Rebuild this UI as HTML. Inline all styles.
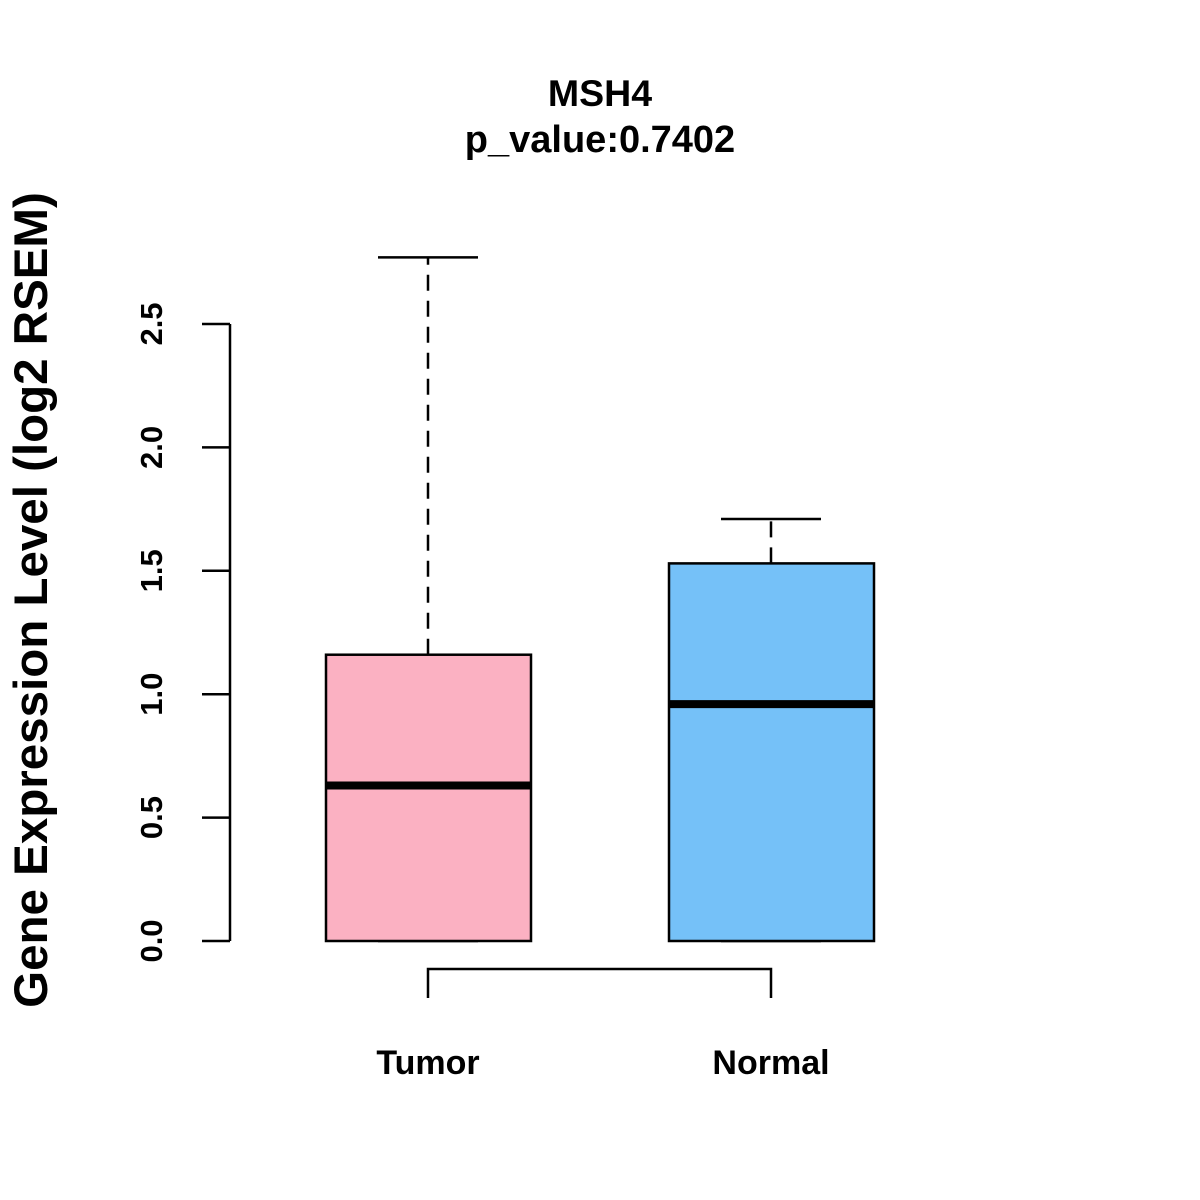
<!DOCTYPE html>
<html><head><meta charset="utf-8"><style>body{margin:0;background:#fff}svg{display:block}text{font-family:"Liberation Sans",Arial,sans-serif;font-weight:bold}</style></head>
<body>
<svg id="chart" width="1200" height="1200">
<text x="600" y="106" font-size="37.5" text-anchor="middle">MSH4</text>
<text x="600" y="152" font-size="38" text-anchor="middle">p_value:0.7402</text>
<text transform="translate(47,600) rotate(-90)" font-size="47.5" text-anchor="middle">Gene Expression Level (log2 RSEM)</text>
<g id="axis"></g><g id="boxes"></g>
<g stroke="#000" stroke-width="2.5" fill="none">
<path d="M428,998 V969 H771 V998"/></g>
</svg>
<script>
const categories=["Tumor","Normal"];
const q1=[0,0];
const medians=[0.63,0.96];
const q3=[1.16,1.53];
const whiskerMin=[0,0];
const whiskerMax=[2.77,1.71];
const colors=["#FBB1C2","#75C1F8"];
const ticks=[0,0.5,1.0,1.5,2.0,2.5];
const tickLabels=["0.0","0.5","1.0","1.5","2.0","2.5"];
const NS="http://www.w3.org/2000/svg";
const y=v=>941-v*246.8;
const x=i=>428+i*343;
function mk(tag,attrs,parent){const e=document.createElementNS(NS,tag);for(const k in attrs)e.setAttribute(k,attrs[k]);parent.appendChild(e);return e;}
const ax=document.getElementById('axis');
const al=mk('line',{x1:230,x2:230,y1:y(ticks[0]),y2:y(ticks[ticks.length-1]),stroke:'#000','stroke-width':2.5},ax);


ticks.forEach((t,i)=>{
 const l=mk('line',{x1:202,x2:230,y1:y(t),y2:y(t),stroke:'#000','stroke-width':2.5},ax);
 
 
 const tx=mk('text',{transform:`translate(162,${y(t)}) rotate(-90)`,'font-size':31,'text-anchor':'middle'},ax);
 tx.textContent=tickLabels[i];
 
 
});
const bx=document.getElementById('boxes');
categories.forEach((c,i)=>{
 const cx=x(i);
 const g=mk('g',{},bx);
 
 
 mk('line',{x1:cx,x2:cx,y1:y(q3[i]),y2:y(whiskerMax[i]),stroke:'#000','stroke-width':2.5,'stroke-dasharray':'16,10'},g);
 mk('line',{x1:cx-50,x2:cx+50,y1:y(whiskerMax[i]),y2:y(whiskerMax[i]),stroke:'#000','stroke-width':2.5},g);
 mk('line',{x1:cx-50,x2:cx+50,y1:y(whiskerMin[i]),y2:y(whiskerMin[i]),stroke:'#000','stroke-width':2.5},g);
 mk('rect',{x:cx-102,y:y(q3[i]),width:205,height:y(q1[i])-y(q3[i]),fill:colors[i],stroke:'#000','stroke-width':2.5},g);
 mk('line',{x1:cx-102,x2:cx+103,y1:y(medians[i]),y2:y(medians[i]),stroke:'#000','stroke-width':8},g);
 const t=mk('text',{x:cx,y:1074,'font-size':34,'text-anchor':'middle'},bx);
 t.textContent=c;
 
 
});
</script>
</body></html>
